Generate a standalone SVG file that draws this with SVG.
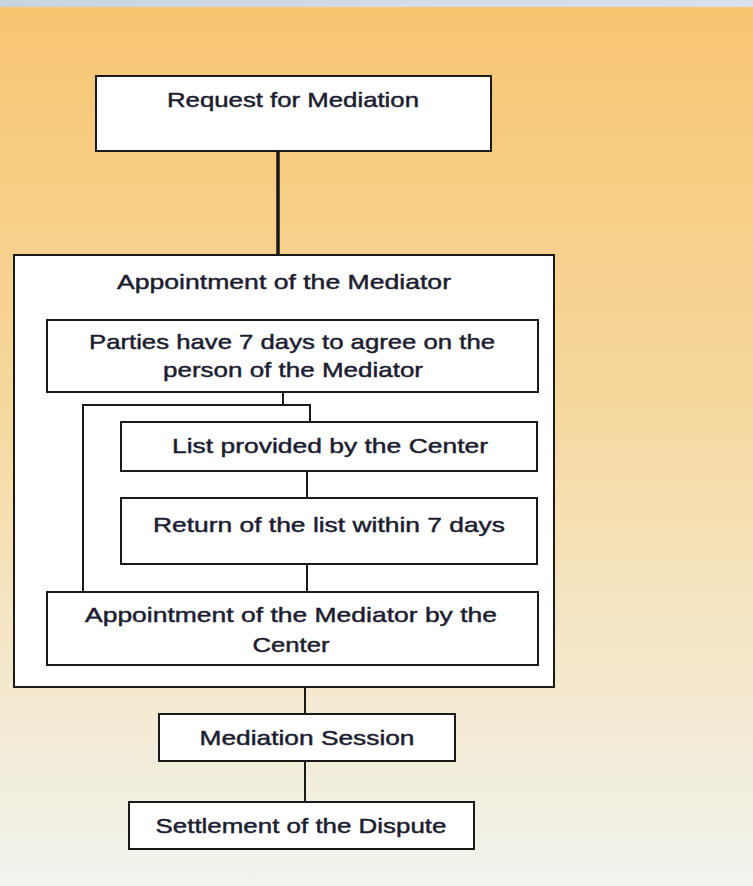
<svg xmlns="http://www.w3.org/2000/svg" width="753" height="886" viewBox="0 0 753 886">
<defs>
<linearGradient id="bg" x1="0" y1="0" x2="0" y2="1">
<stop offset="0" stop-color="#f8c571"/>
<stop offset="0.45" stop-color="#f6d89e"/>
<stop offset="0.75" stop-color="#f4e8cc"/>
<stop offset="1" stop-color="#f1f3ee"/>
</linearGradient>
<linearGradient id="bar" x1="0" y1="0" x2="1" y2="0">
<stop offset="0" stop-color="#c9d5dd"/>
<stop offset="1" stop-color="#d8e2ea"/>
</linearGradient>
</defs>
<style>
.box{fill:#ffffff;stroke:#1a1a1a;stroke-width:2}
.t{font-family:"Liberation Sans","DejaVu Sans",sans-serif;font-size:21px;fill:#1c1c30;stroke:#1c1c30;stroke-width:0.45;text-anchor:middle}
.c{fill:none;stroke:#1a1a1a;stroke-width:2}
</style>
<rect x="0" y="7" width="753" height="879" fill="url(#bg)"/>
<rect x="0" y="0" width="753" height="7" fill="url(#bar)"/>

<g id="request">
<rect class="box" x="96" y="76" width="395" height="75"/>
<text class="t" x="293" y="107" textLength="252" lengthAdjust="spacingAndGlyphs">Request for Mediation</text>
</g>

<g id="appointment">
<rect class="box" x="14" y="255" width="540" height="432"/>
<text class="t" x="284" y="289" textLength="334" lengthAdjust="spacingAndGlyphs">Appointment of the Mediator</text>
</g>

<g id="parties">
<rect class="box" x="47" y="320" width="491" height="72"/>
<text class="t" x="292" y="349" textLength="406" lengthAdjust="spacingAndGlyphs">Parties have 7 days to agree on the</text>
<text class="t" x="293" y="377" textLength="260" lengthAdjust="spacingAndGlyphs">person of the Mediator</text>
</g>

<g id="list">
<rect class="box" x="121" y="422" width="416" height="49"/>
<text class="t" x="330" y="453" textLength="316" lengthAdjust="spacingAndGlyphs">List provided by the Center</text>
</g>

<g id="return">
<rect class="box" x="121" y="498" width="416" height="66"/>
<text class="t" x="329" y="532" textLength="352" lengthAdjust="spacingAndGlyphs">Return of the list within 7 days</text>
</g>

<g id="center-appointment">
<rect class="box" x="47" y="592" width="491" height="73"/>
<text class="t" x="291" y="622" textLength="412" lengthAdjust="spacingAndGlyphs">Appointment of the Mediator by the</text>
<text class="t" x="291" y="652" textLength="77" lengthAdjust="spacingAndGlyphs">Center</text>
</g>

<g id="session">
<rect class="box" x="159" y="714" width="296" height="47"/>
<text class="t" x="307" y="745" textLength="215" lengthAdjust="spacingAndGlyphs">Mediation Session</text>
</g>

<g id="settlement">
<rect class="box" x="129" y="802" width="345" height="47"/>
<text class="t" x="301" y="833" textLength="291" lengthAdjust="spacingAndGlyphs">Settlement of the Dispute</text>
</g>

<g id="connectors">
<path class="c" d="M278 151V255" style="stroke-width:3.5"/>
<path class="c" d="M283 392V405M82 405H310V421M83 404V591"/>
<path class="c" d="M307 471V497M307 564V591"/>
<path class="c" d="M305 688V713M305 762V801"/>
</g>
</svg>
